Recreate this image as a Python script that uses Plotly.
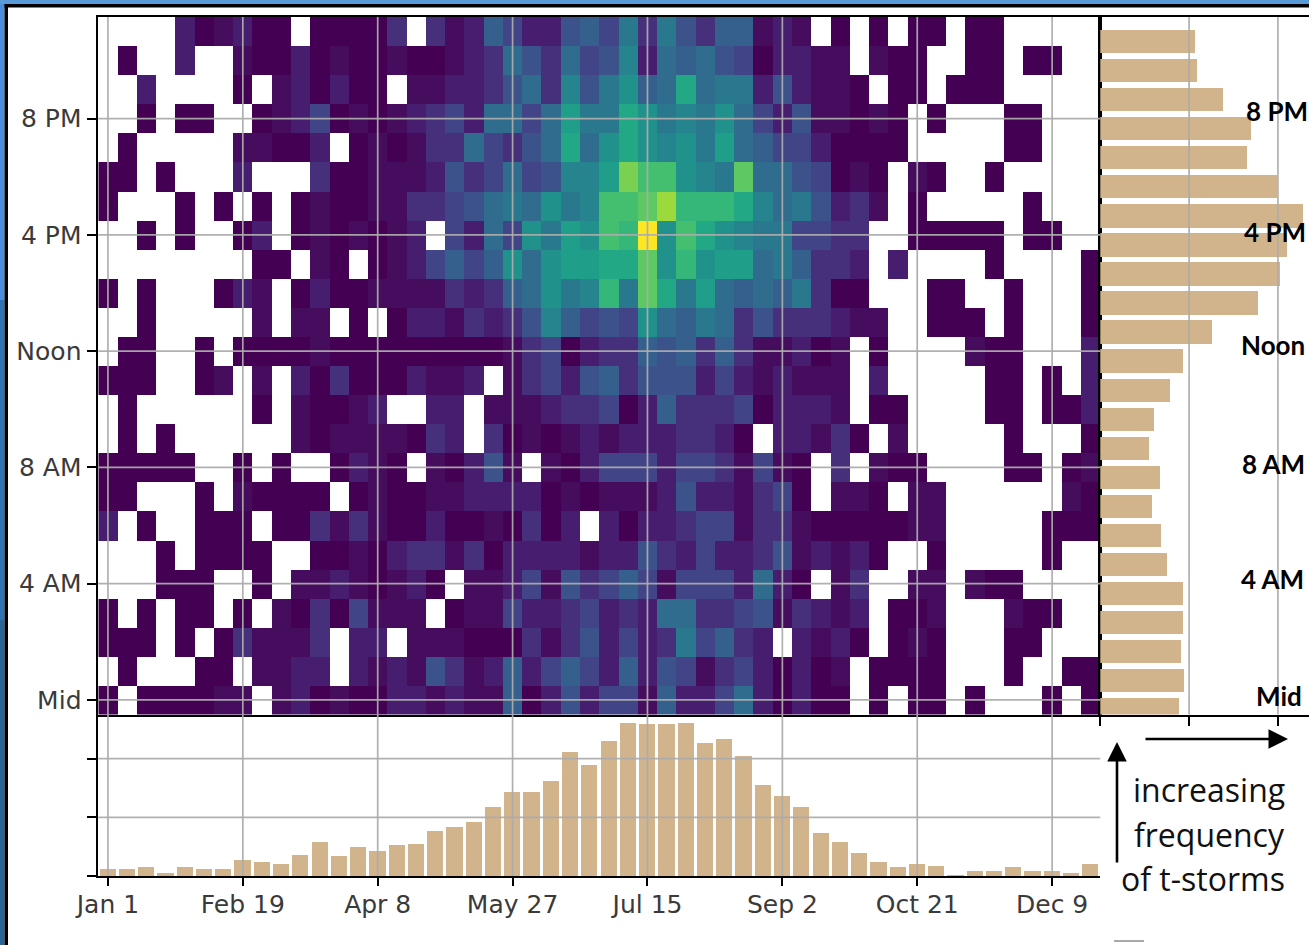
import plotly.graph_objects as go

W, H = 1309, 945

hour_23 = [0,0,0,0,3,1,2,3,1,1,0,1,1,1,1,4,0,4,2,3,7,5,3,3,6,7, 5,9,4,9,6,4,7,7,2,3,2,0,1,0,1,0,1,1,0,1,1,0,0,0,0,0]
hour_22 = [0,1,0,0,3,0,0,2,1,1,3,1,2,1,1,2,1,1,2,3,4,8,6,4,8,5, 6,10,3,8,7,8,6,5,1,3,3,2,2,0,2,1,1,0,0,1,1,0,1,1,0,0]
hour_21 = [0,0,3,0,0,0,0,1,0,2,3,1,3,1,1,0,2,2,3,3,4,6,8,4,10,6, 9,11,7,8,13,8,9,9,3,6,3,2,2,1,0,1,1,0,1,1,1,0,0,0,0,0]
hour_20 = [0,0,1,0,1,1,0,0,1,2,3,5,1,2,1,2,3,4,5,3,8,8,5,8,12,9, 9,13,11,9,10,9,11,8,5,3,6,2,2,1,2,1,0,1,0,0,0,1,1,0,0,0]
hour_19 = [0,1,0,0,0,0,0,2,2,1,1,3,0,1,2,1,2,4,4,8,5,4,6,8,13,8, 11,13,11,10,11,9,12,8,7,5,5,3,1,1,1,1,0,0,0,0,0,1,1,0,0,0]
hour_18 = [1,1,0,1,0,0,0,3,0,0,0,4,1,1,2,2,2,3,6,4,5,8,5,6,10,10, 12,17,15,15,11,10,9,16,8,8,6,5,1,2,1,0,2,1,0,0,1,0,0,0,0,0]
hour_17 = [1,0,0,0,1,0,1,0,1,0,1,2,1,1,2,2,4,4,5,6,8,9,8,11,9,10, 15,15,16,18,14,14,14,13,10,8,9,6,3,4,2,0,1,0,0,0,0,0,1,0,0,0]
hour_16 = [0,0,1,0,1,0,0,1,3,0,1,2,1,2,1,2,3,0,5,3,8,5,11,9,12,11, 15,14,21,11,15,13,11,10,9,9,5,5,4,4,0,0,1,1,1,1,1,0,1,1,0,0]
hour_15 = [0,0,0,0,0,0,0,0,1,1,0,2,1,0,1,2,3,5,7,5,7,11,8,11,12,12, 13,13,16,11,14,11,12,12,8,9,7,4,4,3,0,3,0,0,0,0,1,0,0,0,0,1]
hour_14 = [1,0,1,0,0,0,1,3,2,0,1,3,1,1,2,2,2,2,4,3,4,7,8,11,9,10, 14,9,16,13,9,12,8,7,8,7,9,4,1,1,0,0,0,1,1,0,0,1,0,0,0,1]
hour_13 = [0,0,1,0,0,0,0,0,2,0,2,2,0,1,0,1,3,3,2,4,3,4,6,10,7,5, 6,5,11,8,7,9,8,4,6,4,4,4,3,2,2,0,0,1,1,1,0,1,0,0,0,1]
hour_12 = [0,1,1,0,0,1,0,1,1,1,1,2,1,1,1,1,1,1,1,1,1,2,4,5,1,3, 4,4,7,6,7,4,7,4,2,2,3,1,2,0,1,0,0,0,0,2,1,1,0,0,0,3]
hour_11 = [1,1,1,0,0,1,2,0,2,0,3,1,4,1,1,1,3,2,2,3,0,2,4,5,3,6, 7,4,6,6,6,3,5,3,2,3,2,2,2,0,3,0,0,0,0,0,1,1,0,1,0,3]
hour_10 = [0,1,0,0,0,0,0,0,1,0,2,1,1,2,3,0,0,3,3,0,2,2,2,3,4,4, 5,1,3,7,4,4,4,5,1,3,3,3,2,0,1,1,0,0,0,0,1,1,0,1,1,3]
hour_09 = [0,1,0,1,0,0,0,0,0,0,2,1,2,2,2,2,1,4,3,0,4,1,2,1,2,3, 2,3,3,3,4,4,3,1,0,3,3,2,4,1,0,2,0,0,0,0,0,1,0,0,0,1]
hour_08 = [1,1,1,1,1,0,0,1,0,1,0,0,1,3,2,1,0,2,1,3,6,2,0,2,1,3, 5,5,5,3,5,5,4,2,5,2,1,0,4,0,2,1,1,0,0,0,0,1,1,0,1,2]
hour_07 = [1,1,0,0,0,1,0,2,1,1,1,1,0,1,2,1,1,2,2,3,3,3,3,1,2,1, 2,2,2,3,6,3,3,2,4,5,1,0,2,2,1,0,2,2,0,0,0,0,0,0,2,1]
hour_06 = [3,0,1,0,0,1,1,1,0,1,1,4,2,4,2,1,1,3,1,1,2,1,4,1,3,0, 3,1,3,3,4,5,5,2,4,4,2,1,1,1,1,1,2,2,0,0,0,0,0,1,1,1]
hour_05 = [0,0,0,1,0,1,1,1,1,0,0,1,1,2,1,3,4,4,2,4,1,3,3,3,3,2, 3,3,6,4,3,5,3,3,4,6,2,3,2,3,1,0,0,1,0,0,0,0,0,1,0,0]
hour_04 = [0,0,0,1,1,1,0,0,1,0,2,2,3,2,1,2,3,1,0,2,2,3,5,2,6,4, 5,7,5,2,5,5,5,3,8,3,1,0,2,4,0,0,2,2,0,2,1,1,0,0,0,0]
hour_03 = [1,0,1,0,1,1,0,1,0,2,1,4,1,5,2,2,2,0,1,2,2,5,3,3,4,5, 3,4,3,8,8,4,4,5,6,2,4,3,2,3,0,1,1,2,0,0,0,2,1,1,0,0]
hour_02 = [1,1,1,0,1,0,1,4,2,2,2,4,0,3,3,0,2,2,2,1,1,1,4,2,4,6, 3,5,3,4,9,5,7,4,3,0,3,2,3,1,0,1,2,1,0,0,0,1,1,0,0,0]
hour_01 = [0,1,0,0,0,1,1,0,2,2,3,3,0,3,2,3,2,6,4,2,3,7,3,5,7,5, 3,7,3,6,5,2,4,5,3,1,3,1,2,0,1,1,1,1,0,0,0,1,0,0,1,1]
hour_00 = [1,0,1,1,1,1,2,2,0,2,3,1,2,1,1,3,3,2,3,2,2,7,1,3,6,3, 5,5,2,7,3,3,5,8,3,1,3,1,1,0,1,0,1,1,0,1,0,0,0,1,0,1]

weekly_counts = [4,4,5,2,5,4,4,9,8,7,12,19,11,16,14,17,18,25,27,30,38,46,46,52,68,61,74,84,83,83,84,73,75,66,50,44,38,24,19,13,8,5,7,6,1,3,3,5,3,3,2,7]
hourly_counts = [89,95,91,93,93,75,69,59,67,55,61,79,93,126,178,203,211,229,199,166,170,138,109,107]

date_ticks = [0, 7, 14, 21, 28, 35, 42, 49]
date_labels = ["Jan 1", "Feb 19", "Apr 8", "May 27", "Jul 15", "Sep 2", "Oct 21", "Dec 9"]
hour_ticks = [0, 4, 8, 12, 16, 20]
hour_labels = ["Mid", "4 AM", "8 AM", "Noon", "4 PM", "8 PM"]
weekly_ticks = [0, 32, 64]
hourly_ticks = [0, 100, 200]

side_labels = ["8 PM", "4 PM", "Noon", "8 AM", "4 AM", "Mid"]
side_label_right = [1310, 1308, 1307, 1307, 1306, 1304]
side_label_mid = [111, 232, 345, 464, 579, 696]
note_lines = ["increasing", "frequency", "of t-storms"]
note_mid = [789, 834, 878]

color_stops = ["#440154", "#460d5e", "#471d6f", "#46307c", "#414487", "#3b528b", "#355f8d", "#2f6c8e", "#2a788e",
               "#25848e", "#21918c", "#1f9e89", "#22a884", "#35b779", "#44bf70", "#5ec962", "#7ad151", "#9bd93c",
               "#bddf26", "#dfe318", "#fde725"]

hours = [hour_00, hour_01, hour_02, hour_03, hour_04, hour_05, hour_06, hour_07,
         hour_08, hour_09, hour_10, hour_11, hour_12, hour_13, hour_14, hour_15,
         hour_16, hour_17, hour_18, hour_19, hour_20, hour_21, hour_22, hour_23]
z = [[v if v > 0 else None for v in row] for row in hours]
weeks = list(range(52))
hour_index = list(range(24))
colorscale = [[i / (len(color_stops) - 1), c] for i, c in enumerate(color_stops)]

TAN = "#d2b48c"
GRID = "rgba(172,172,172,0.95)"
L, R, T, MID, B = 98.3, 1100.3, 17.0, 714.5, 876.0


def px(x):
    return x / W


def py(y):
    return 1 - y / H


fig = go.Figure()
fig.add_trace(go.Heatmap(z=z, x=weeks, y=hour_index, colorscale=colorscale, zmin=1, zmax=21,
                         showscale=False, hoverongaps=False, xaxis="x", yaxis="y"))
fig.add_trace(go.Bar(x=weeks, y=weekly_counts, width=0.84, marker=dict(color=TAN, line=dict(width=0)),
                     xaxis="x2", yaxis="y2"))
fig.add_trace(go.Bar(y=hour_index, x=hourly_counts, orientation="h", width=0.8,
                     marker=dict(color=TAN, line=dict(width=0)), xaxis="x3", yaxis="y3"))

shapes = []
# page edge behind the chart
for y0, y1, c in [(0, 300, "#4b8fdc"), (300, 620, "#2f73b4"), (620, 945, "#2a6598")]:
    shapes.append(dict(type="rect", xref="paper", yref="paper", x0=0, x1=px(4.5), y0=py(y0), y1=py(y1),
                       fillcolor=c, line_width=0, layer="below"))
shapes.append(dict(type="rect", xref="paper", yref="paper", x0=0, x1=1, y0=py(0), y1=py(4),
                   fillcolor="#5a9ad8", line_width=0, layer="below"))
shapes.append(dict(type="rect", xref="paper", yref="paper", x0=px(4.5), x1=px(8), y0=py(4), y1=0,
                   fillcolor="#000000", line_width=0))
shapes.append(dict(type="rect", xref="paper", yref="paper", x0=px(4.5), x1=1, y0=py(4), y1=py(7.5),
                   fillcolor="#000000", line_width=0))
# grid lines drawn over the marks
grid = dict(color=GRID, width=1.7)
for t in date_ticks:
    shapes.append(dict(type="line", xref="x", yref="y domain", x0=t, x1=t, y0=0, y1=1, line=grid))
    shapes.append(dict(type="line", xref="x2", yref="y2 domain", x0=t, x1=t, y0=0, y1=1, line=grid))
for t in hour_ticks:
    shapes.append(dict(type="line", xref="x domain", yref="y", x0=0, x1=1, y0=t, y1=t, line=grid))
for t in weekly_ticks[1:]:
    shapes.append(dict(type="line", xref="x2 domain", yref="y2", x0=0, x1=1, y0=t, y1=t, line=grid))
for t in hourly_ticks[1:]:
    shapes.append(dict(type="line", xref="x3", yref="y3 domain", x0=t, x1=t, y0=0, y1=1, line=grid))
shapes.append(dict(type="line", xref="paper", yref="paper", x0=px(1114), x1=px(1144), y0=py(941), y1=py(941),
                   line=dict(color="#555555", width=1)))

annotations = []
for s, xr, ym in zip(side_labels, side_label_right, side_label_mid):
    annotations.append(dict(text=s, xref="paper", yref="paper", x=px(xr), y=py(ym), xanchor="right", yanchor="middle",
                            showarrow=False, font=dict(family="Lato", size=26, color="#000000", weight="bold")))
for s, ym in zip(note_lines, note_mid):
    annotations.append(dict(text=s, xref="paper", yref="paper", x=px(1287), y=py(ym), xanchor="right", yanchor="middle",
                            showarrow=False, font=dict(family="Open Sans", size=32, color="#111111")))
annotations.append(dict(text="", xref="paper", yref="paper", x=px(1288), y=py(739), ax=-144, ay=0,
                        arrowhead=2, arrowsize=1.5, arrowwidth=2.6, arrowcolor="#000000", showarrow=True))
annotations.append(dict(text="", xref="paper", yref="paper", x=px(1117), y=py(742), ax=0, ay=122,
                        arrowhead=2, arrowsize=1.5, arrowwidth=2.6, arrowcolor="#000000", showarrow=True))

line = dict(showline=True, linecolor="#000000", linewidth=1.6, showgrid=False, zeroline=False, automargin=False)
tickfont = dict(family="DejaVu Sans", size=25, color="#3a3a3a")

fig.update_layout(
    width=W, height=H, margin=dict(l=0, r=0, t=0, b=0, pad=0), autosize=False,
    paper_bgcolor="#ffffff", plot_bgcolor="#ffffff", showlegend=False, bargap=0,
    font=dict(family="DejaVu Sans"),
    shapes=shapes, annotations=annotations,
    xaxis=dict(domain=[px(L), px(R)], range=[-0.5, 51.5], anchor="y", mirror=True, showticklabels=False,
               ticks="", **line),
    yaxis=dict(domain=[py(MID), py(T)], range=[-0.5, 23.5], anchor="x", mirror=True, tickmode="array",
               tickvals=hour_ticks, ticktext=hour_labels, ticks="outside", ticklen=10, tickwidth=1.6,
               tickcolor="#000000", tickfont=tickfont, **line),
    xaxis2=dict(domain=[px(L), px(R)], range=[-0.5, 51.5], anchor="y2", tickmode="array",
                tickvals=date_ticks, ticktext=date_labels, ticks="outside", ticklen=8, tickwidth=1.6,
                tickcolor="#000000", tickfont=tickfont, ticklabelstandoff=-3, **line),
    yaxis2=dict(domain=[py(B), py(MID)], range=[0, 88.1], anchor="x2", tickmode="array",
                tickvals=weekly_ticks, ticks="outside", ticklen=10, tickwidth=1.6, tickcolor="#000000",
                showticklabels=False, **line),
    xaxis3=dict(domain=[px(R), 1], range=[0, 235], anchor="y3", mirror=True, tickmode="array",
                tickvals=hourly_ticks, ticks="outside", ticklen=10, tickwidth=1.6, tickcolor="#000000",
                showticklabels=False, **line),
    yaxis3=dict(domain=[py(MID), py(T)], range=[-0.17, 23.85], anchor="x3", showticklabels=False, ticks="", **line),
)

fig.write_html("out.html", config={"displayModeBar": False},
               post_script="document.body.style.margin='0';document.documentElement.style.overflow='hidden';")
